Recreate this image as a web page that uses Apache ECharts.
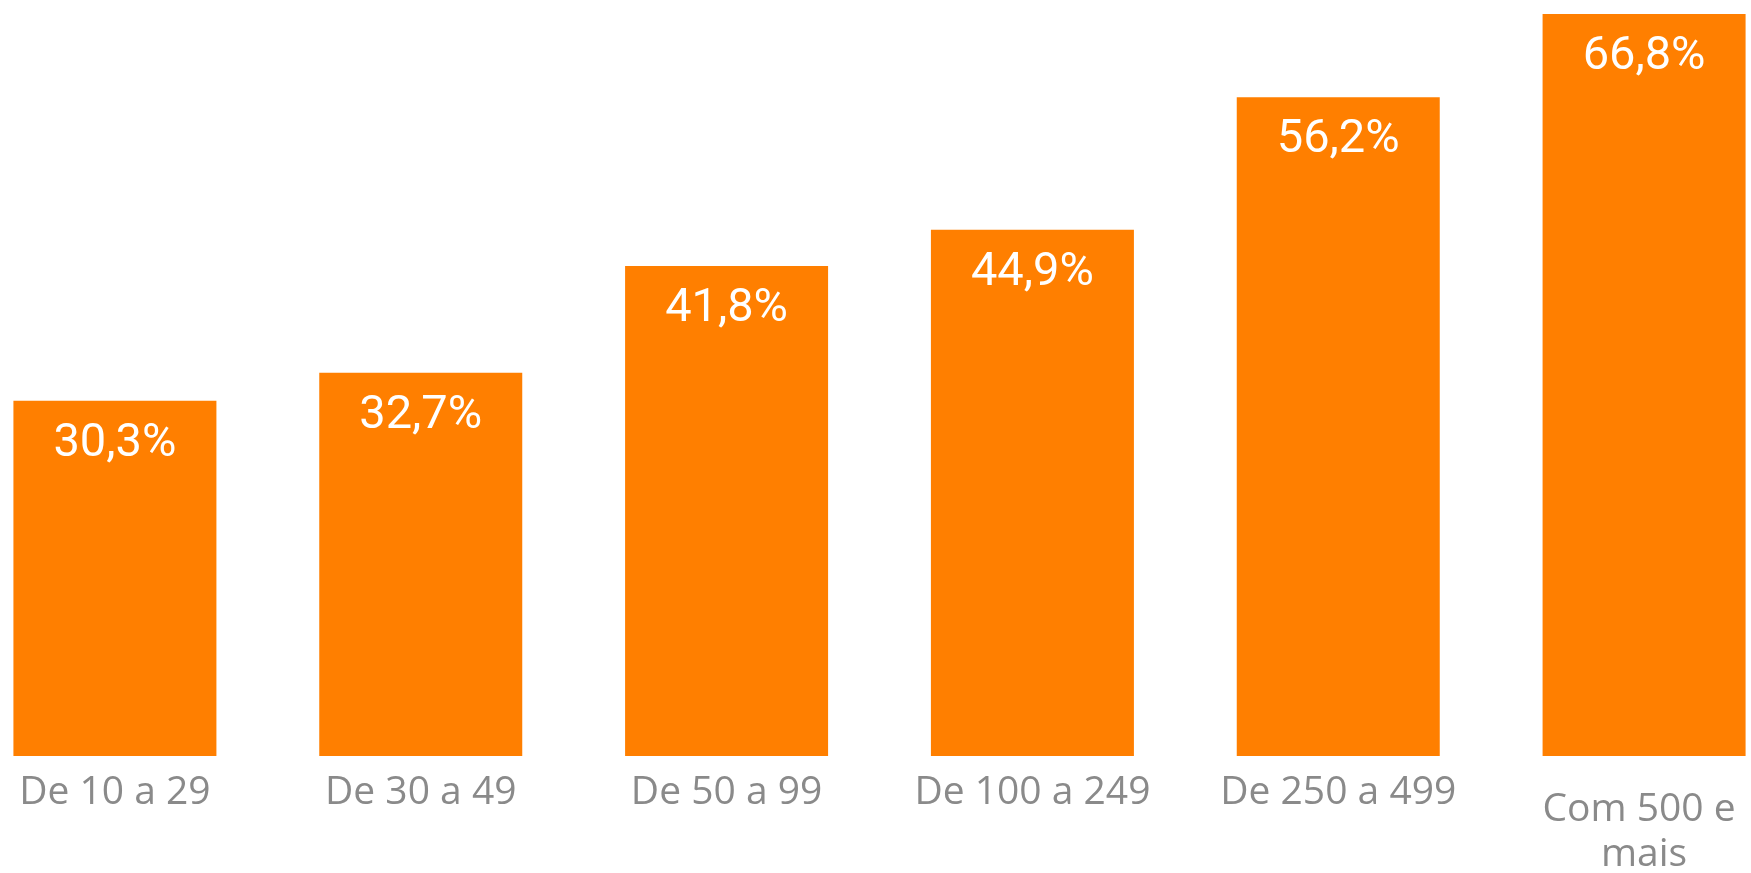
<!DOCTYPE html>
<html>
<head>
<meta charset="utf-8">
<script src="https://cdn.jsdelivr.net/npm/echarts@6/dist/echarts.min.js"></script>
<style>
html,body{margin:0;padding:0;background:#fff;}
#chart{width:1751px;height:873px;}
</style>
</head>
<body>
<div id="chart"></div>
<script>
const categories = ["De 10 a 29", "De 30 a 49", "De 50 a 99", "De 100 a 249", "De 250 a 499", "Com 500 e mais"];
const values = [30.3, 32.7, 41.8, 44.9, 56.2, 66.8];

const chart = echarts.init(document.getElementById('chart'), null, {renderer: 'canvas'});
chart.setOption({
  animation: false,
  backgroundColor: '#ffffff',
  grid: {left: -38, right: -46, top: 14, bottom: 117, containLabel: false, outerBoundsMode: 'none'},
  xAxis: {
    type: 'category',
    data: categories.map((c, i) => i === categories.length - 1
      ? {value: c, textStyle: {padding: [17, 0, 0, 0]}}
      : c),
    axisLine: {show: false},
    axisTick: {show: false},
    axisLabel: {
      interval: 0,
      margin: 14,
      color: '#8a8a8a',
      fontFamily: '"Open Sans", "Noto Sans", sans-serif',
      fontSize: 39,
      lineHeight: 45,
      width: 240,
      overflow: 'break'
    }
  },
  yAxis: {
    type: 'value',
    min: 0,
    max: 63.3,
    show: false,
    splitLine: {show: false}
  },
  series: [{
    type: 'bar',
    data: values,
    barWidth: 203,
    clip: true,
    itemStyle: {color: '#ff7f00'},
    label: {
      show: true,
      position: 'insideTop',
      distance: 20,
      color: '#ffffff',
      fontFamily: 'Roboto, "DejaVu Sans Condensed", sans-serif',
      fontWeight: 'normal',
      fontSize: 47,
      formatter: p => p.value.toFixed(1).replace('.', ',') + '%'
    }
  }]
});
</script>
</body>
</html>
